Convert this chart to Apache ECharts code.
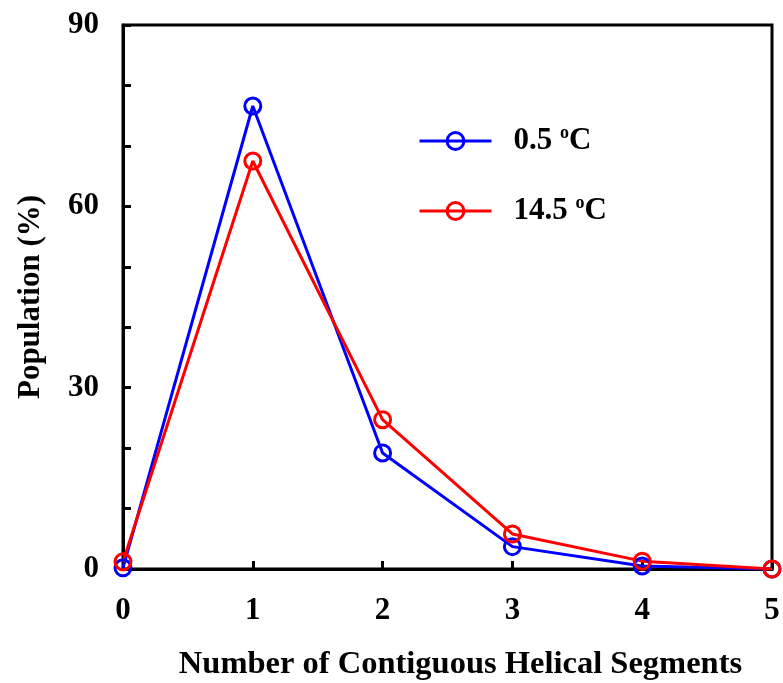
<!DOCTYPE html>
<html><head><meta charset="utf-8">
<script src="https://cdn.jsdelivr.net/npm/echarts@6/dist/echarts.min.js"></script>
<style>html,body{margin:0;padding:0;background:#fff}#c{width:783px;height:683px}</style>
</head><body><div id="c"></div>
<script>
const categories = [0, 1, 2, 3, 4, 5];
const blueValues = [0.2, 76.6, 19.2, 3.7, 0.5, 0.0];
const redValues = [1.2, 67.5, 24.7, 5.8, 1.3, 0.0];
const seriesNames = ['0.5 {sup|o}C', '14.5 {sup|o}C'];
const xTitle = 'Number of Contiguous Helical Segments';
const yTitle = 'Population (%)';

const font = 'Liberation Serif';
const FS = 31;
const chart = echarts.init(document.getElementById('c'));
function mk(name, vals, color) {
  return {
    name: name, type: 'line', data: categories.map((c, i) => [c, vals[i]]),
    symbol: 'circle', symbolSize: 16, showAllSymbol: true,
    lineStyle: { color: color, width: 3 },
    itemStyle: { color: 'rgba(0,0,0,0)', borderColor: color, borderWidth: 3 },
    z: 3
  };
}
chart.setOption({
  animation: false,
  grid: { left: 123, right: 11, top: 25, bottom: 114, outerBoundsMode: 'none', containLabel: false,
    show: true, borderColor: '#000', borderWidth: 3, backgroundColor: 'transparent' },
  legend: {
    orient: 'vertical', left: 418, top: 124, itemGap: 36, padding: 0,
    itemWidth: 72, itemHeight: 21,
    data: seriesNames,
    itemStyle: { color: 'rgba(0,0,0,0)', borderWidth: 3 },
    lineStyle: { width: 3 },
    textStyle: {
      fontFamily: font, fontWeight: 'bold', fontSize: FS, lineHeight: 34, color: '#000', padding: [0, 0, 0, 17],
      rich: { sup: { fontFamily: font, fontWeight: 'bold', fontSize: 18, lineHeight: 34, color: '#000', verticalAlign: 'top', padding: [0, 0, 14, 0] } }
    }
  },
  xAxis: {
    type: 'value', min: 0, max: 5, interval: 1,
    name: xTitle, nameLocation: 'middle', nameGap: 79,
    nameTextStyle: { fontFamily: font, fontWeight: 'bold', fontSize: 32.5, color: '#000', padding: [0, 0, 0, 26] },
    axisLine: { lineStyle: { color: '#000', width: 3 } },
    axisTick: { inside: true, length: 8, lineStyle: { color: '#000', width: 3 } },
    axisLabel: { fontFamily: font, fontWeight: 'bold', fontSize: FS, color: '#000', margin: 26 },
    splitLine: { show: false }
  },
  yAxis: {
    type: 'value', min: 0, max: 90, interval: 10,
    name: yTitle, nameLocation: 'middle', nameGap: 77,
    nameTextStyle: { fontFamily: font, fontWeight: 'bold', fontSize: FS, color: '#000' },
    axisLine: { lineStyle: { color: '#000', width: 3 } },
    axisTick: { inside: true, length: 8, lineStyle: { color: '#000', width: 3 } },
    axisLabel: { fontFamily: font, fontWeight: 'bold', fontSize: FS, color: '#000', margin: 24,
      formatter: v => (v % 30 === 0 ? String(v) : '') },
    splitLine: { show: false }
  },
  series: [mk(seriesNames[0], blueValues, '#0000ff'), mk(seriesNames[1], redValues, '#ff0000')]
});
</script></body></html>
